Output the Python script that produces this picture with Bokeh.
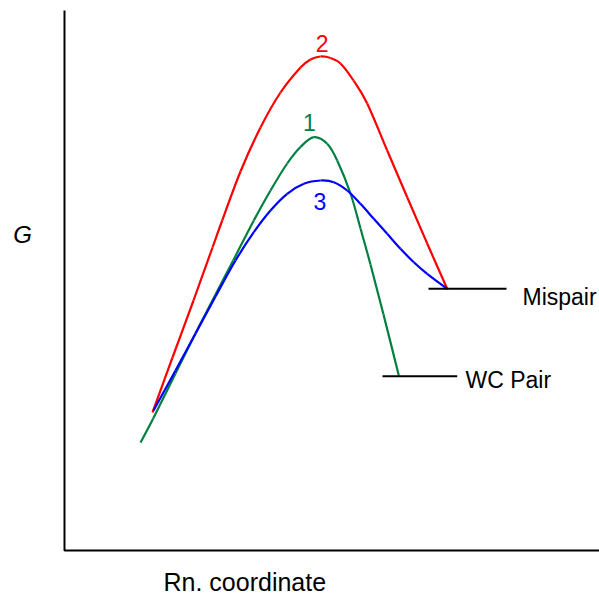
from bokeh.plotting import figure
from bokeh.models import Range1d
from bokeh.embed import file_html
from bokeh.resources import INLINE
from bokeh.core.properties import value

# Reaction coordinate (x) and free energy G (y)
red_x = [88, 108, 129, 148, 157.7, 176, 196, 216, 236, 246, 256, 266, 276, 289, 302.7, 322.7, 342.7, 362.7, 383]
red_g = [138, 193, 250, 303, 330, 379, 423, 458, 483, 491, 494, 492.5, 487, 470, 447, 400, 353.3, 307, 261]

green_x = [76, 88.7, 111, 131, 151, 168.7, 189.3, 206, 222.7, 236, 249.3, 262.7, 272.7, 286, 296, 306, 319, 334.3]
green_g = [108, 132, 177, 217, 256, 290, 330, 360, 387, 403.5, 413.3, 406.7, 390, 357, 322, 286, 236, 175]

blue_x = [89, 111, 131, 151, 171, 189.3, 206, 222.7, 239.3, 256, 269.3, 282.7, 296, 309.3, 322.7, 336, 349.3, 362.7, 382.7]
blue_g = [140, 180, 217, 254, 290, 318.3, 340, 356.7, 366.7, 370, 368.3, 360, 346.7, 331.7, 316.7, 301.7, 288.3, 276.7, 261.7]

# Product levels
level_names = ["Mispair", "WC Pair"]
level_g = [261.7, 174.3]
level_x0 = [364, 318]
level_x1 = [442, 392.7]

curve_labels = ["2", "1", "3"]

FONT = value("Liberation Sans")


def smooth_segments(xs, ys):
    """Catmull-Rom through the read points, expressed as cubic Bezier pieces."""
    n = len(xs)
    x0, y0, x1, y1, cx0, cy0, cx1, cy1 = [], [], [], [], [], [], [], []
    for i in range(n - 1):
        ip = max(i - 1, 0)
        inn = min(i + 2, n - 1)
        x0.append(xs[i]); y0.append(ys[i])
        x1.append(xs[i + 1]); y1.append(ys[i + 1])
        cx0.append(xs[i] + (xs[i + 1] - xs[ip]) / 6.0)
        cy0.append(ys[i] + (ys[i + 1] - ys[ip]) / 6.0)
        cx1.append(xs[i + 1] - (xs[inn] - xs[i]) / 6.0)
        cy1.append(ys[i + 1] - (ys[inn] - ys[i]) / 6.0)
    return dict(x0=x0, y0=y0, x1=x1, y1=y1, cx0=cx0, cy0=cy0, cx1=cx1, cy1=cy1)


p = figure(width=599, height=596, x_range=Range1d(-64, 535), y_range=Range1d(-46, 550),
           output_backend="svg", toolbar_location=None, min_border=0,
           x_axis_type=None, y_axis_type=None, outline_line_color=None)
p.grid.visible = False
p.background_fill_color = "white"
p.border_fill_color = "white"

# axes drawn as an L
p.line([0, 0, 535], [540, 0, 0], line_color="black", line_width=2)

for xs, ys, col in [(red_x, red_g, "#ff0000"), (green_x, green_g, "#008040"), (blue_x, blue_g, "#0000ff")]:
    s = smooth_segments(xs, ys)
    p.bezier(x0=s["x0"], y0=s["y0"], x1=s["x1"], y1=s["y1"], cx0=s["cx0"], cy0=s["cy0"],
             cx1=s["cx1"], cy1=s["cy1"], line_color=col, line_width=2.2)

p.segment(x0=level_x0, y0=level_g, x1=level_x1, y1=level_g, line_color="black", line_width=2)

p.text(x=[458, 401], y=[254, 171], text=level_names, text_font=FONT, text_font_size="23px",
       text_baseline="middle", text_align="left", text_color="black")

p.text(x=[257.7, 245, 255.3], y=[507.5, 428.3, 349], text=curve_labels, text_font=FONT,
       text_font_size="23px", text_baseline="middle", text_align="center",
       text_color=["#ff0000", "#008040", "#0000ff"])

p.text(x=[-51.3], y=[316], text=["G"], text_font=FONT, text_font_size="24px",
       text_font_style="italic", text_baseline="middle", text_align="left", text_color="black")
p.text(x=[99], y=[-31], text=["Rn. coordinate"], text_font=FONT, text_font_size="25px",
       text_baseline="middle", text_align="left", text_color="black")

open("out.html", "w").write(file_html(p, INLINE))
